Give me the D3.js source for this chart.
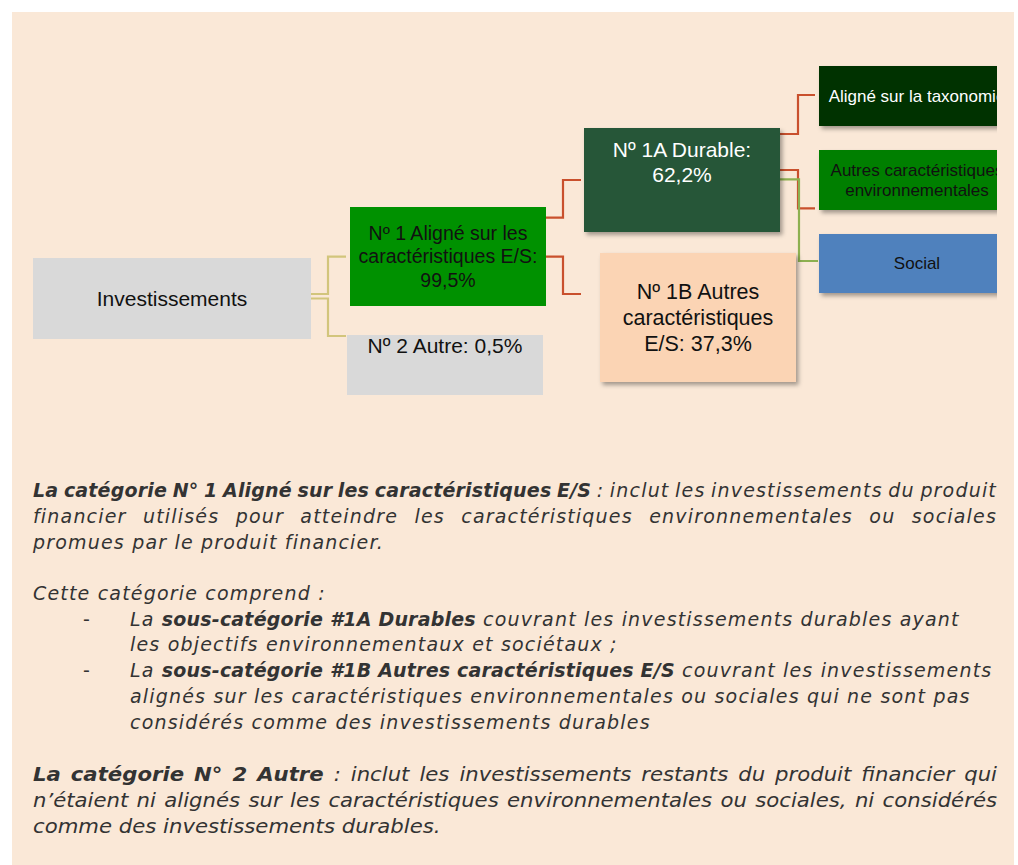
<!DOCTYPE html>
<html><head><meta charset="utf-8">
<script src="https://cdn.jsdelivr.net/npm/d3@7"></script>
<style>body{margin:0;background:#fff;} svg{display:block}</style>
</head><body>
<svg id="c" width="1018" height="865"></svg>
<script>
// ---------- DATA ----------
const categories = [
  "Investissements",
  "Nº 1 Aligné sur les caractéristiques E/S",
  "Nº 2 Autre",
  "Nº 1A Durable",
  "Nº 1B Autres caractéristiques E/S",
  "Aligné sur la taxonomie",
  "Autres caractéristiques environnementales",
  "Social"
];
const shares = [null, 99.5, 0.5, 62.2, 37.3, null, null, null];
const parentIndex = [null, 0, 0, 1, 1, 3, 3, 3];

const para1 = [
  [["La catégorie N° 1 Aligné sur les caractéristiques E/S", 1], [" : inclut les investissements du produit", 0]],
  [["financier utilisés pour atteindre les caractéristiques environnementales ou sociales", 0]],
  [["promues par le produit financier.", 0]]
];
const para2Intro = "Cette catégorie comprend :";
const para2Items = [
  [[["La ", 0], ["sous-catégorie #1A Durables", 1], [" couvrant les investissements durables ayant", 0]],
   [["les objectifs environnementaux et sociétaux ;", 0]]],
  [[["La ", 0], ["sous-catégorie #1B Autres caractéristiques E/S", 1], [" couvrant les investissements", 0]],
   [["alignés sur les caractéristiques environnementales ou sociales qui ne sont pas", 0]],
   [["considérés comme des investissements durables", 0]]]
];
const para3 = [
  [["La catégorie N° 2 Autre", 1], [" :  inclut les investissements restants du produit financier qui", 0]],
  [["n’étaient ni alignés sur les caractéristiques environnementales ou sociales, ni considérés", 0]],
  [["comme des investissements durables.", 0]]
];

// ---------- LAYOUT / STYLE ----------
const layout = [
  {x:33,  y:258, w:278, h:81,  fill:"#D9D9D9", color:"#111", fs:21,   lh:24,   wrap:260, valign:"middle"},
  {x:350, y:207, w:196, h:99,  fill:"#009100", color:"#111", fs:19.5, lh:23.5, wrap:186, valign:"middle"},
  {x:347, y:335, w:196, h:60,  fill:"#D9D9D9", color:"#111", fs:21,   lh:24,   wrap:186, valign:"top", first:17.7},
  {x:584, y:128, w:196, h:104, fill:"#265739", color:"#fff", fs:21,   lh:25,   wrap:150, valign:"top", first:28.7, shadow:true},
  {x:600, y:253, w:196, h:129, fill:"#FBD4B4", color:"#111", fs:21.5, lh:26.3, wrap:185, valign:"middle", shadow:true},
  {x:819, y:66,  w:196, h:60,  fill:"#013300", color:"#fff", fs:17,   lh:20,   wrap:182, valign:"middle", shadow:true, clip:true},
  {x:819, y:150, w:196, h:60,  fill:"#007F00", color:"#111", fs:17,   lh:20,   wrap:182, valign:"middle", shadow:true, clip:true},
  {x:819, y:234, w:196, h:59,  fill:"#4F81BD", color:"#111", fs:17,   lh:20,   wrap:182, valign:"middle", shadow:true, clip:true}
];
const KHAKI = "#D2C57C", RED = "#C9502D", OLIVE = "#8DB050";
const linkLayout = [
  null,
  {sy:294,   mx:328, ty:256.7, ex:346, stroke:KHAKI},
  {sy:298.5, mx:328, ty:336,   ex:346, stroke:KHAKI},
  {sy:217.7, mx:563, ty:180,   ex:581, stroke:RED},
  {sy:256.7, mx:563, ty:294,   ex:581, stroke:RED},
  {sy:134,   mx:798, ty:95,    ex:815, stroke:RED},
  {sy:170,   mx:798, ty:208.3, ex:815, stroke:RED},
  {sy:179.3, mx:799, ty:261,   ex:818, stroke:OLIVE}
];

const svg = d3.select("#c");
const defs = svg.append("defs");
const flt = defs.append("filter").attr("id","sh").attr("x","-10%").attr("y","-10%").attr("width","130%").attr("height","150%");
flt.append("feDropShadow").attr("dx",2.5).attr("dy",3).attr("stdDeviation",2)
   .attr("flood-color","#000").attr("flood-opacity",0.35);
defs.append("clipPath").attr("id","clipR").append("rect")
   .attr("x",0).attr("y",0).attr("width",997).attr("height",865);

svg.append("rect").attr("x",12).attr("y",12).attr("width",1002).attr("height",860).attr("fill","#FAE8D7");

const loc = d3.formatLocale({decimal:",", thousands:"\u00a0", grouping:[3], currency:["","\u00a0€"]});
const pct = v => loc.format(".1f")(v) + "%";
const labelOf = i => shares[i] == null ? categories[i] : categories[i] + ": " + pct(shares[i]);

const ctx = document.createElement("canvas").getContext("2d");
function wrap(text, fs, maxW) {
  ctx.font = fs + 'px "Liberation Sans"';
  const words = text.split(" "); const lines = []; let cur = "";
  for (const w of words) {
    const t = cur ? cur + " " + w : w;
    if (!cur || ctx.measureText(t).width <= maxW) cur = t; else { lines.push(cur); cur = w; }
  }
  lines.push(cur); return lines;
}

// links
const line = d3.line();
const gLinks = svg.append("g").attr("fill","none").attr("stroke-width",2.2);
parentIndex.forEach((p, i) => {
  if (p == null) return;
  const L = linkLayout[i], P = layout[p];
  const x0 = P.x + P.w;
  gLinks.append("path")
    .attr("d", line([[x0, L.sy], [L.mx, L.sy], [L.mx, L.ty], [L.ex, L.ty]]))
    .attr("stroke", L.stroke);
});

// nodes
categories.forEach((c, i) => {
  const B = layout[i];
  const g = svg.append("g");
  if (B.clip) g.attr("clip-path","url(#clipR)");
  g.append("rect").attr("x",B.x).attr("y",B.y).attr("width",B.w).attr("height",B.h)
    .attr("fill",B.fill).attr("filter", B.shadow ? "url(#sh)" : null);
  const lines = wrap(labelOf(i), B.fs, B.wrap);
  const n = lines.length;
  lines.forEach((t, k) => {
    const y = B.valign === "top" ? B.y + B.first + k * B.lh
      : B.y + B.h / 2 + (k - (n - 1) / 2) * B.lh + 0.35 * B.fs;
    g.append("text").attr("x", B.x + B.w / 2).attr("y", y)
      .attr("text-anchor","middle").attr("font-family",'"Liberation Sans", Arial, sans-serif')
      .attr("font-size", B.fs).attr("fill", B.color).text(t);
  });
});

// ---------- paragraphs ----------
const P_FS = 19;
const gText = svg.append("g").attr("font-family",'"DejaVu Sans", sans-serif')
  .attr("font-size",P_FS).attr("font-style","italic").attr("fill","#333");

let LS = [0, 0]; // [regular, bold]
function measure(parent, segs, ls) {
  const t = parent.append("text").style("white-space","pre");
  segs.forEach(([s,b]) => t.append("tspan").attr("font-weight", b ? "bold" : null)
     .attr("letter-spacing", ls[b]).text(s));
  const w = t.node().getComputedTextLength(); t.remove(); return w;
}
function drawLine(parent, segs, x, y, justifyW, ls) {
  if (!justifyW) {
    const t = parent.append("text").attr("x",x).attr("y",y).style("white-space","pre");
    segs.forEach(([s,b]) => t.append("tspan").attr("font-weight", b ? "bold" : null)
       .attr("letter-spacing", ls[b]).text(s));
    return;
  }
  const words = [];
  segs.forEach(([s,b]) => s.split(/\s+/).filter(w => w.length).forEach(w => words.push([w,b])));
  const els = words.map(([w,b]) => parent.append("text").attr("y",y).attr("letter-spacing",ls[b])
      .attr("font-weight", b ? "bold" : null).text(w));
  const ws = els.map(e => e.node().getComputedTextLength());
  const gap = (justifyW - d3.sum(ws)) / (words.length - 1);
  let cx = x;
  els.forEach((e,k) => { e.attr("x", cx); cx += ws[k] + gap; });
}

// calibrate letter spacing to the reference widths
function calibrate(list, b) {
  let nat = 0, tgt = 0, nch = 0;
  list.forEach(([s,w]) => { nat += measure(gText, [[s,b]], [0,0]); tgt += w; nch += s.length; });
  return (tgt - nat) / nch;
}
LS[0] = calibrate([[para2Intro, 295], ["les objectifs environnementaux et sociétaux ;", 483],
                   ["promues par le produit financier.", 354], ["couvrant les investissements", 310]], 0);
LS[1] = calibrate([["La catégorie N° 1 Aligné sur les caractéristiques E/S", 564],
                   ["sous-catégorie #1B Autres caractéristiques E/S", 516],
                   ["sous-catégorie #1A Durables", 315]], 1);

const X0 = 33, XR = 997, XB = 130;
const p1y = [497, 523, 549];
para1.forEach((segs, k) => drawLine(gText, segs, X0, p1y[k], k < 2 ? XR - X0 : 0, LS));

drawLine(gText, [[para2Intro,0]], X0, 600, 0, LS);
const p2y = [[625.5, 651.3], [677, 703, 729]];
para2Items.forEach((item, a) => {
  gText.append("text").attr("x",83).attr("y",p2y[a][0]).attr("font-style","normal").text("-");
  item.forEach((segs, k) => drawLine(gText, segs, XB, p2y[a][k], 0, LS));
});

// para 3: condensed
const g3 = gText.append("g");
const nat3 = measure(g3, para3[2], [0,0]);
const sx = 408 / nat3;
g3.attr("transform", `translate(${X0},0) scale(${sx},1)`);
const p3y = [781, 807, 833];
para3.forEach((segs, k) => drawLine(g3, segs, 0, p3y[k], k < 2 ? (XR - X0) / sx : 0, [0,0]));
</script>
</body></html>
